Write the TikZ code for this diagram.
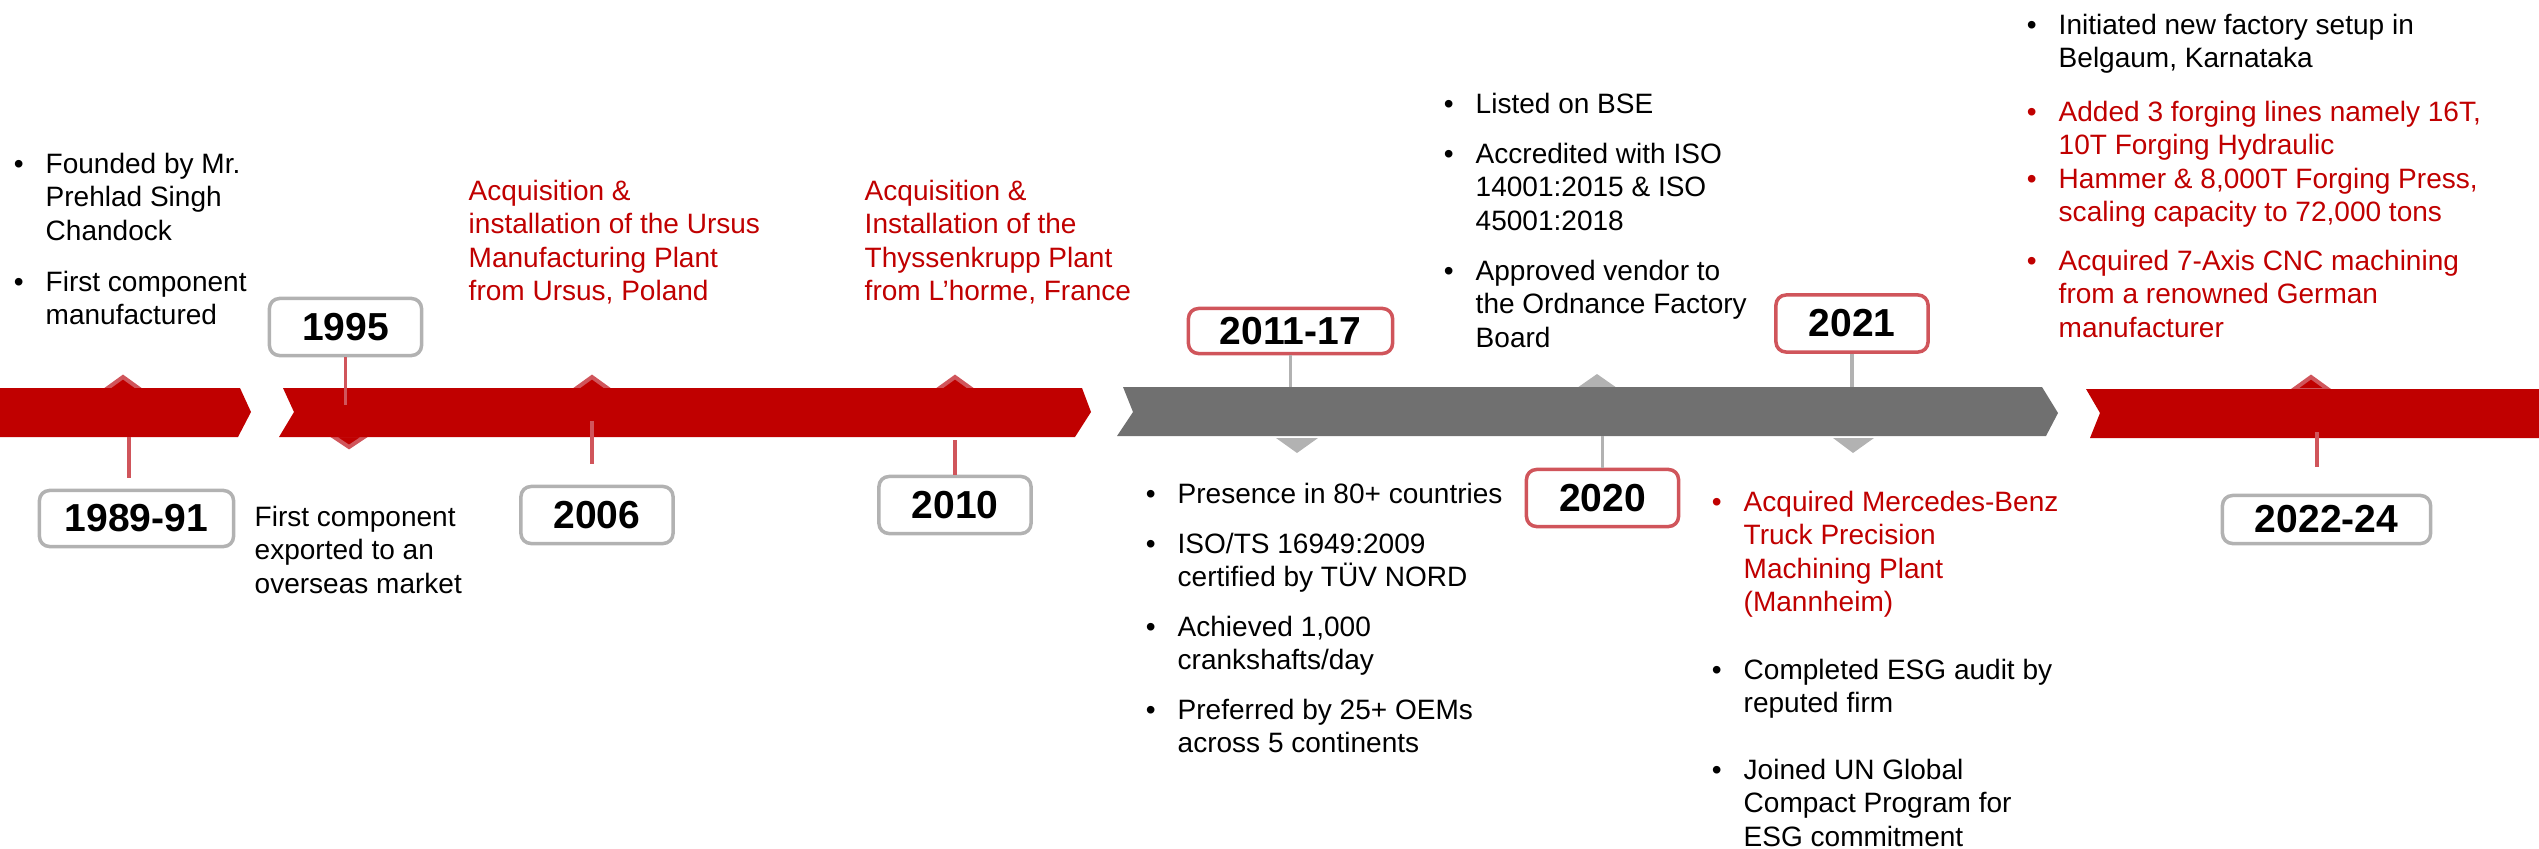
\documentclass[tikz,border=0pt]{standalone}
\usepackage{fontspec}
\setmainfont{Liberation Sans}
\usetikzlibrary{positioning}
\definecolor{bandred}{HTML}{C00000}
\definecolor{bandgrey}{HTML}{707070}
\definecolor{palered}{HTML}{D0555B}
\definecolor{lightgrey}{HTML}{B2B2B2}
\newcommand{\body}{\fontsize{7.97}{9.53}\selectfont}
\newcommand{\yearfont}{\fontsize{11.1}{13}\selectfont\bfseries}
\newcommand{\bul}{\llap{\textbullet\hspace{0.22cm}}}

\begin{document}
\begin{tikzpicture}[
            x=0.01cm, y=-0.01cm,
            note/.style={anchor=north west, align=left, inner sep=0pt, font=\body},
            hot/.style={note, text=bandred},
            year/.style={draw=lightgrey, line width=0.035cm, rounded corners=0.1cm, fill=white,
                inner sep=0pt, font=\yearfont, minimum width=1.52cm, minimum height=0.57cm},
            recent/.style={year, draw=palered},
            redtri/.style={draw=palered, fill=bandred, line width=0.04cm},
            greytri/.style={fill=lightgrey},
            stem/.style={draw=palered, line width=0.035cm},
            greystem/.style={draw=lightgrey, line width=0.035cm}
        ]
            \useasboundingbox (0,0) rectangle (2539,848);

            \foreach \x in {123,592,955,2311}
                \draw[redtri] (\x-18,390) -- (\x,377) -- (\x+18,390) -- cycle;
            \draw[redtri] (331,435) -- (349,447) -- (367,435) -- cycle;
            \fill[greytri] (1276,438) -- (1297,453) -- (1318,438) -- cycle;
            \fill[greytri] (1577,388) -- (1597,374) -- (1617,388) -- cycle;
            \fill[greytri] (1833,438) -- (1853,453) -- (1874,438) -- cycle;

            \fill[bandred] (0,388) -- (240,388) -- (251,412) -- (238,437) -- (0,437) -- cycle;
            \fill[bandred] (283,388) -- (1082,388) -- (1091,412) -- (1075,437) -- (279,437) -- (294,412) -- cycle;
            \fill[bandgrey] (1123,387) -- (2042,387) -- (2058,413) -- (2046,436) -- (1117,436) -- (1133,412) -- cycle;
            \fill[bandred] (2086,389) -- (2539,389) -- (2539,438) -- (2090,438) -- (2100,413) -- cycle;

            \node[year, minimum width=1.94cm, minimum height=0.56cm] (y1989) at (136.5,518.5) {1989-91};
            \node[year] (y1995) at (345.5,327) {1995};
            \node[year] (y2006) at (597,515) {2006};
            \node[year] (y2010) at (955,505) {2010};
            \node[recent, minimum width=2.04cm, minimum height=0.45cm] (y2011) at (1290.5,331) {2011-17};
            \node[recent] (y2020) at (1602.5,498) {2020};
            \node[recent] (y2021) at (1852,323.5) {2021};
            \node[year, minimum width=2.08cm, minimum height=0.48cm] (y2022) at (2326.5,519.5) {2022-24};

            \coordinate (a1989) at (129,437);
            \coordinate (b1989) at (129,478);
            \coordinate (c1995) at (345.5,405);
            \coordinate (a2006) at (592,421);
            \coordinate (b2006) at (592,464);
            \coordinate (c2010) at (955,440);
            \coordinate (c2011) at (1290.5,387);
            \coordinate (c2020) at (1602.5,436);
            \coordinate (c2021) at (1852,387);
            \coordinate (a2022) at (2317,432);
            \coordinate (b2022) at (2317,467);
            \draw[stem] (a1989) -- (b1989);
            \draw[stem] (y1995) -- (c1995);
            \draw[stem] (a2006) -- (b2006);
            \draw[stem] (c2010) -- (y2010);
            \draw[greystem] (y2011) -- (c2011);
            \draw[greystem] (c2020) -- (y2020);
            \draw[greystem] (y2021) -- (c2021);
            \draw[stem] (a2022) -- (b2022);

            \node[note] (founded) at (45,152) {\bul Founded by Mr.\\Prehlad Singh\\Chandock};
            \node[note] (firstmade) at (45,270) {\bul First component\\manufactured};
            \node[note] (export) at (254,505) {First component\\exported to an\\overseas market};
            \node[hot] (ursus) at (468,179) {Acquisition \&\\installation of the Ursus\\Manufacturing Plant\\from Ursus, Poland};
            \node[hot] (thyssen) at (864,179) {Acquisition \&\\Installation of the\\Thyssenkrupp Plant\\from L’horme, France};

            \node[note] (presence) at (1177,482) {\bul Presence in 80+ countries};
            \node[note] (isots) at (1177,532) {\bul ISO/TS 16949:2009\\certified by TÜV NORD};
            \node[note] (cranks) at (1177,615) {\bul Achieved 1,000\\crankshafts/day};
            \node[note] (oems) at (1177,698) {\bul Preferred by 25+ OEMs\\across 5 continents};

            \node[note] (bse) at (1475,92) {\bul Listed on BSE};
            \node[note] (accred) at (1475,142) {\bul Accredited with ISO\\14001:2015 \& ISO\\45001:2018};
            \node[note] (vendor) at (1475,259) {\bul Approved vendor to\\the Ordnance Factory\\Board};

            \node[hot] (benz) at (1743,490) {\bul Acquired Mercedes-Benz\\Truck Precision\\Machining Plant\\(Mannheim)};
            \node[note] (audit) at (1743,658) {\bul Completed ESG audit by\\reputed firm};
            \node[note] (compact) at (1743,758) {\bul Joined UN Global\\Compact Program for\\ESG commitment};

            \node[note] (belgaum) at (2058,13) {\bul Initiated new factory setup in\\Belgaum, Karnataka};
            \node[hot] (lines) at (2058,100) {\bul Added 3 forging lines namely 16T,\\10T Forging Hydraulic};
            \node[hot] (press) at (2058,167) {\bul Hammer \& 8,000T Forging Press,\\scaling capacity to 72,000 tons};
            \node[hot] (cnc) at (2058,249) {\bul Acquired 7-Axis CNC machining\\from a renowned German\\manufacturer};
        \end{tikzpicture}
\end{document}
